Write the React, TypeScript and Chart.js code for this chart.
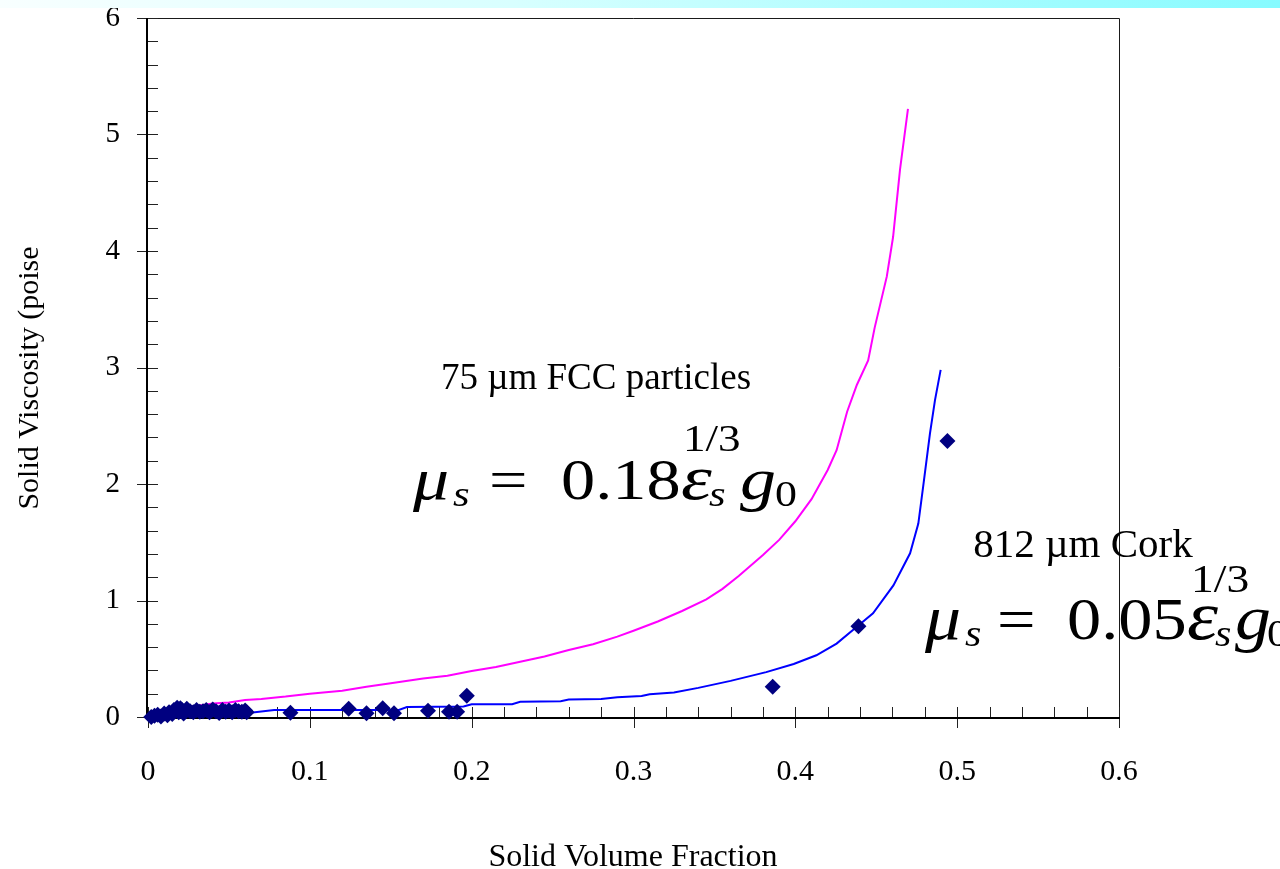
import { useEffect, useRef } from 'react';
import { Chart, registerables } from 'chart.js';

Chart.register(...registerables);

// 75 µm FCC particles: model curve (mu_s = 0.18 eps^(1/3) g0)
const fccFraction = [
  0.005, 0.01, 0.02, 0.03, 0.04, 0.05, 0.06, 0.07, 0.085, 0.1, 0.12, 0.135, 0.15, 0.17,
  0.185, 0.2, 0.215, 0.23, 0.245, 0.26, 0.275, 0.29, 0.3, 0.315, 0.33, 0.345, 0.355,
  0.365, 0.38, 0.39, 0.4, 0.41, 0.42, 0.4255, 0.432, 0.438, 0.445, 0.449, 0.4565,
  0.4604, 0.4647, 0.4696,
];
const fccViscosity = [
  0.04, 0.06, 0.08, 0.095, 0.115, 0.125, 0.145, 0.155, 0.175, 0.2, 0.225, 0.26, 0.29, 0.33,
  0.355, 0.395, 0.43, 0.475, 0.52, 0.575, 0.625, 0.69, 0.74, 0.82, 0.91, 1.01, 1.1,
  1.21, 1.39, 1.52, 1.68, 1.87, 2.12, 2.29, 2.62, 2.85, 3.06, 3.34, 3.78,
  4.12, 4.7, 5.22,
];

// 812 µm cork: model curve (mu_s = 0.05 eps^(1/3) g0)
const corkFraction = [
  0.004, 0.015, 0.04, 0.062, 0.078, 0.155, 0.16, 0.195, 0.2, 0.225, 0.23, 0.255, 0.26,
  0.28, 0.29, 0.305, 0.31, 0.325, 0.34, 0.36, 0.382, 0.399, 0.413, 0.4255, 0.438, 0.448,
  0.4606, 0.4709, 0.476, 0.479, 0.4832, 0.4863, 0.4898,
];
const corkViscosity = [
  0.005, 0.02, 0.03, 0.035, 0.06, 0.06, 0.085, 0.09, 0.11, 0.11, 0.13, 0.135, 0.15,
  0.155, 0.17, 0.18, 0.195, 0.21, 0.25, 0.31, 0.385, 0.455, 0.53, 0.63, 0.775, 0.89,
  1.13, 1.405, 1.66, 1.98, 2.435, 2.72, 2.98,
];

// Cork measurements
const measuredFraction = [
  0.002, 0.004, 0.006, 0.008, 0.01, 0.012, 0.013, 0.015, 0.016, 0.018, 0.019, 0.02,
  0.021, 0.022, 0.024, 0.026, 0.028, 0.03, 0.032, 0.034, 0.036, 0.038, 0.04, 0.042,
  0.044, 0.046, 0.048, 0.05, 0.052, 0.054, 0.056, 0.058, 0.06, 0.061,
  0.088, 0.124, 0.135, 0.145, 0.152, 0.173, 0.186, 0.191, 0.197, 0.386, 0.439, 0.494,
];
const measuredViscosity = [
  0.0, 0.01, 0.02, 0.005, 0.03, 0.015, 0.04, 0.025, 0.06, 0.08, 0.04, 0.075,
  0.06, 0.03, 0.07, 0.05, 0.04, 0.06, 0.045, 0.05, 0.06, 0.04, 0.065, 0.05,
  0.035, 0.06, 0.045, 0.055, 0.04, 0.06, 0.05, 0.045, 0.055, 0.04,
  0.037, 0.07, 0.032, 0.075, 0.032, 0.054, 0.045, 0.045, 0.183, 0.26, 0.78, 2.37,
];

const xTickValues = [0, 0.1, 0.2, 0.3, 0.4, 0.5, 0.6];
const xTickLabels = ['0', '0.1', '0.2', '0.3', '0.4', '0.5', '0.6'];
const yTickValues = [0, 1, 2, 3, 4, 5, 6];
const yTickLabels = ['0', '1', '2', '3', '4', '5', '6'];

const SERIF = "'Liberation Serif', 'Times New Roman', serif";

const toPoints = (xs: number[], ys: number[]) => xs.map((x, i) => ({ x, y: ys[i] }));

type FormulaStyle = {
  x0: number;
  base: number;
  size: number;
  stretch: number;
  supRaise: number;
  // pen offsets: mu, sub s, '=', coefficient, eps, sub s, 1/3, g, sub 0
  pens: number[];
};

// Draws "mu_s = c eps_s^(1/3) g_0" in equation-editor style.
function drawFormula(ctx: CanvasRenderingContext2D, st: FormulaStyle, coef: string) {
  const S = st.size;
  const p = st.pens;
  const put = (txt: string, dx: number, dy: number, rel: number, italic: boolean) => {
    ctx.save();
    ctx.translate(st.x0 + dx, st.base + dy);
    ctx.scale(st.stretch, 1);
    ctx.font = `${italic ? 'italic ' : ''}${Math.round(rel * S)}px ${SERIF}`;
    ctx.textAlign = 'left';
    ctx.textBaseline = 'alphabetic';
    ctx.fillText(txt, 0, 0);
    ctx.restore();
  };
  const sub = 0.12 * S;
  put('\u03BC', p[0], 0, 1.05, true);
  put('s', p[1], sub, 0.62, true);
  put('=', p[2], 0, 1, false);
  put(coef, p[3], 0, 1, false);
  put('\u03B5', p[4], 0, 1.15, true);
  put('s', p[5], sub, 0.62, true);
  put('1/3', p[6], -st.supRaise * S, 0.66, false);
  put('g', p[7], 0, 1.05, true);
  put('0', p[8], sub, 0.64, false);
}

const noPadding = (scale: any) => {
  scale.paddingTop = 0;
  scale.paddingBottom = 0;
  scale.paddingLeft = 0;
  scale.paddingRight = 0;
};

const framePlugin = {
  id: 'frame',
  beforeDatasetsDraw(chart: any) {
    const { ctx, chartArea: a, scales } = chart;
    const x = scales.x;
    const y = scales.y;
    ctx.save();
    // top and right border
    ctx.strokeStyle = '#1a1a1a';
    ctx.lineWidth = 1;
    ctx.beginPath();
    ctx.moveTo(a.left, a.top + 0.5);
    ctx.lineTo(a.right + 0.5, a.top + 0.5);
    ctx.lineTo(a.right + 0.5, a.bottom);
    ctx.stroke();

    // tick marks: majors cross the axis, minors point inward
    ctx.strokeStyle = '#222';
    ctx.lineWidth = 1;
    ctx.beginPath();
    for (let i = 0; i <= 30; i++) {
      const px = Math.round(x.getPixelForValue(i * 0.02)) + 0.5;
      ctx.moveTo(px, a.bottom - 10);
      ctx.lineTo(px, i % 5 === 0 ? a.bottom + 11 : a.bottom);
    }
    for (let i = 0; i <= 30; i++) {
      const py = Math.round(y.getPixelForValue(i * 0.2)) + 0.5;
      ctx.moveTo(i % 5 === 0 ? a.left - 11 : a.left, py);
      ctx.lineTo(a.left + 10, py);
    }
    ctx.stroke();

    // left and bottom axis lines
    ctx.strokeStyle = '#000';
    ctx.lineWidth = 2;
    ctx.beginPath();
    ctx.moveTo(a.left - 1, a.top);
    ctx.lineTo(a.left - 1, a.bottom + 1);
    ctx.lineTo(a.right + 1, a.bottom + 1);
    ctx.stroke();
    ctx.restore();
  },
  afterDraw(chart: any) {
    const { ctx } = chart;
    ctx.save();
    ctx.fillStyle = '#000';

    // y axis title
    ctx.save();
    ctx.translate(30, 378);
    ctx.rotate(-Math.PI / 2);
    ctx.font = `30px ${SERIF}`;
    ctx.textAlign = 'center';
    ctx.textBaseline = 'middle';
    ctx.fillText('Solid Viscosity (poise', 0, 0);
    ctx.restore();

    // x axis title
    ctx.font = `32px ${SERIF}`;
    ctx.textAlign = 'center';
    ctx.textBaseline = 'alphabetic';
    ctx.fillText('Solid Volume Fraction', 633, 866);

    // series labels
    ctx.font = `37px ${SERIF}`;
    ctx.fillText('75 \u00B5m FCC particles', 596, 389);
    ctx.font = `41px ${SERIF}`;
    ctx.fillText('812 \u00B5m Cork', 1083, 557);

    drawFormula(
      ctx,
      {
        x0: 413,
        base: 499,
        size: 56,
        stretch: 1.22,
        supRaise: 0.86,
        pens: [0, 40, 76, 148, 268, 296, 270, 327, 362],
      },
      '0.18',
    );
    drawFormula(
      ctx,
      {
        x0: 925,
        base: 639,
        size: 60,
        stretch: 1.14,
        supRaise: 0.78,
        pens: [0, 40, 72, 142, 262, 290, 266, 310, 342],
      },
      '0.05',
    );
    ctx.restore();
  },
};

export default function App() {
  const canvasRef = useRef<HTMLCanvasElement | null>(null);

  useEffect(() => {
    const canvas = canvasRef.current;
    if (!canvas) return;
    const chart = new Chart(canvas, {
      type: 'scatter',
      data: {
        datasets: [
          {
            label: '75 µm FCC particles',
            data: toPoints(fccFraction, fccViscosity),
            showLine: true,
            borderColor: '#FF00FF',
            backgroundColor: '#FF00FF',
            borderWidth: 2,
            pointRadius: 0,
            tension: 0,
            order: 2,
          },
          {
            label: '812 µm Cork',
            data: toPoints(corkFraction, corkViscosity),
            showLine: true,
            borderColor: '#0000FF',
            backgroundColor: '#0000FF',
            borderWidth: 2,
            pointRadius: 0,
            tension: 0,
            order: 1,
          },
          {
            label: 'Cork data',
            data: toPoints(measuredFraction, measuredViscosity),
            showLine: false,
            pointStyle: 'rectRot',
            pointRadius: 8,
            backgroundColor: '#000080',
            borderColor: '#000080',
            borderWidth: 0,
            order: 0,
          },
        ],
      },
      options: {
        animation: false,
        responsive: false,
        devicePixelRatio: 1,
        clip: false,
        layout: { padding: { left: 0, top: 18, right: 161, bottom: 0 } },
        plugins: {
          legend: { display: false },
          tooltip: { enabled: false },
        },
        scales: {
          x: {
            type: 'linear',
            min: 0,
            max: 0.6,
            afterBuildTicks: (scale: any) => {
              scale.ticks = xTickValues.map((v) => ({ value: v }));
            },
            afterFit: (scale: any) => {
              scale.height = 152;
              noPadding(scale);
            },
            grid: { display: false, drawTicks: false },
            border: { display: false },
            ticks: {
              padding: 37,
              color: '#000',
              font: { family: SERIF, size: 30 },
              maxRotation: 0,
              callback: (v: any) => xTickLabels[Math.round(Number(v) * 10)] ?? '',
            },
          },
          y: {
            type: 'linear',
            min: 0,
            max: 6,
            afterBuildTicks: (scale: any) => {
              scale.ticks = yTickValues.map((v) => ({ value: v }));
            },
            afterFit: (scale: any) => {
              scale.width = 148;
              noPadding(scale);
            },
            grid: { display: false, drawTicks: false },
            border: { display: false },
            ticks: {
              padding: 28,
              color: '#000',
              font: { family: SERIF, size: 29 },
              callback: (v: any) => yTickLabels[Math.round(Number(v))] ?? '',
            },
          },
        },
      },
      plugins: [framePlugin],
    });
    return () => chart.destroy();
  }, []);

  return (
    <div
      style={{
        position: 'absolute',
        left: 0,
        top: 0,
        width: 1280,
        height: 869,
        background: '#fff',
        overflow: 'hidden',
      }}
    >
      <canvas ref={canvasRef} width={1280} height={869} style={{ display: 'block' }} />
      <div
        style={{
          position: 'absolute',
          left: 0,
          top: 0,
          width: 1280,
          height: 8,
          background: 'linear-gradient(90deg, #f8ffff 0%, #d8ffff 40%, #86fbff 100%)',
        }}
      />
    </div>
  );
}
